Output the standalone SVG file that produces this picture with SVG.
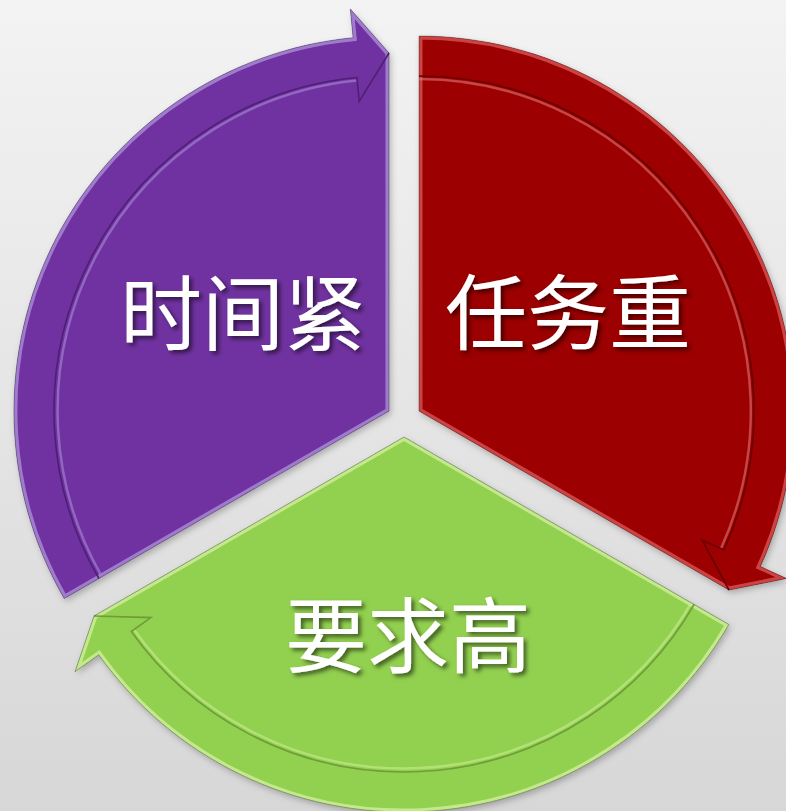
<svg xmlns="http://www.w3.org/2000/svg" width="786" height="811" viewBox="0 0 786 811">
  <defs>
    <linearGradient id="bg" x1="0" y1="0" x2="0" y2="1">
      <stop offset="0" stop-color="#f3f3f3"/>
      <stop offset="1" stop-color="#d7d7d7"/>
    </linearGradient>
    <filter id="tshadow" x="-10%" y="-20%" width="130%" height="150%">
      <feDropShadow dx="3" dy="3" stdDeviation="2" flood-color="#000" flood-opacity="0.55"/>
    </filter>
    <filter id="sshadow" x="-10%" y="-10%" width="120%" height="120%">
      <feDropShadow dx="2" dy="3" stdDeviation="3" flood-color="#000" flood-opacity="0.25"/>
    </filter>
    <path id="pPurple" d="M389,411 L64.2,598.5 A375,375 0 0 1 353.1,37.7 L350.3,8.9 L389,53 Z"/>
    <path id="pRed" d="M419,411 L419,36 A375,375 0 0 1 760.3,566.5 L786.6,578.5 L729,590 Z"/>
    <path id="pGreen" d="M404,437 L728.8,624.5 A375,375 0 0 1 98.7,654.8 L75.1,671.6 L94,616 Z"/>
    <clipPath id="cPurple"><use href="#pPurple"/></clipPath>
    <clipPath id="cRed"><use href="#pRed"/></clipPath>
    <clipPath id="cGreen"><use href="#pGreen"/></clipPath>
  </defs>
  <style>
    .label { font-family: "Noto Sans CJK SC", "Microsoft YaHei", sans-serif; font-size: 82px; fill: #ffffff; text-anchor: middle; filter: url(#tshadow); }
    .edge { fill: none; stroke-width: 7; }
    .ring { fill: none; stroke-width: 1.6; }
    .ringhi { fill: none; stroke-width: 2.5; }
    .outline { fill: none; stroke: rgba(0,0,0,0.3); stroke-width: 1; }
  </style>

  <rect x="0" y="0" width="786" height="811" fill="url(#bg)"/>

  <g id="connectors"></g>

  <g id="node-time">
    <use href="#pPurple" fill="#7030a0" filter="url(#sshadow)"/>
    <use href="#pPurple" class="edge" stroke="#b49ae0" stroke-opacity="0.7" clip-path="url(#cPurple)"/>
    <path class="ringhi" stroke="#a98ad8" stroke-opacity="0.6" d="M101,575 A332,332 0 0 1 356.9,80.5"/>
    <path class="ring" stroke="#4e1f75" d="M98.9,578.5 A335,335 0 0 1 356.9,77.5 L359.2,101.4 L389,53"/>
    <use href="#pPurple" class="outline"/>
    <text class="label" x="243" y="344">时间紧</text>
  </g>

  <g id="node-task">
    <use href="#pRed" fill="#9c0000" filter="url(#sshadow)"/>
    <use href="#pRed" class="edge" stroke="#e06060" stroke-opacity="0.7" clip-path="url(#cRed)"/>
    <path class="ringhi" stroke="#e88080" stroke-opacity="0.55" d="M419,79 A332,332 0 0 1 721,548.5"/>
    <path class="ring" stroke="#6a0000" d="M419,76 A335,335 0 0 1 723.9,549.9 L702,540 L729,590"/>
    <use href="#pRed" class="outline"/>
    <text class="label" x="568" y="343">任务重</text>
  </g>

  <g id="node-demand">
    <use href="#pGreen" fill="#92d050" filter="url(#sshadow)"/>
    <use href="#pGreen" class="edge" stroke="#d4f0a0" stroke-opacity="0.75" clip-path="url(#cGreen)"/>
    <path class="ringhi" stroke="#c8ec90" stroke-opacity="0.6" d="M691.5,602.5 A332,332 0 0 1 133.5,629"/>
    <path class="ring" stroke="#6f9d3a" d="M694.1,604.5 A335,335 0 0 1 131.3,631.5 L150.8,617.6 L94,616"/>
    <use href="#pGreen" class="outline"/>
    <text class="label" x="408" y="666">要求高</text>
  </g>
</svg>
